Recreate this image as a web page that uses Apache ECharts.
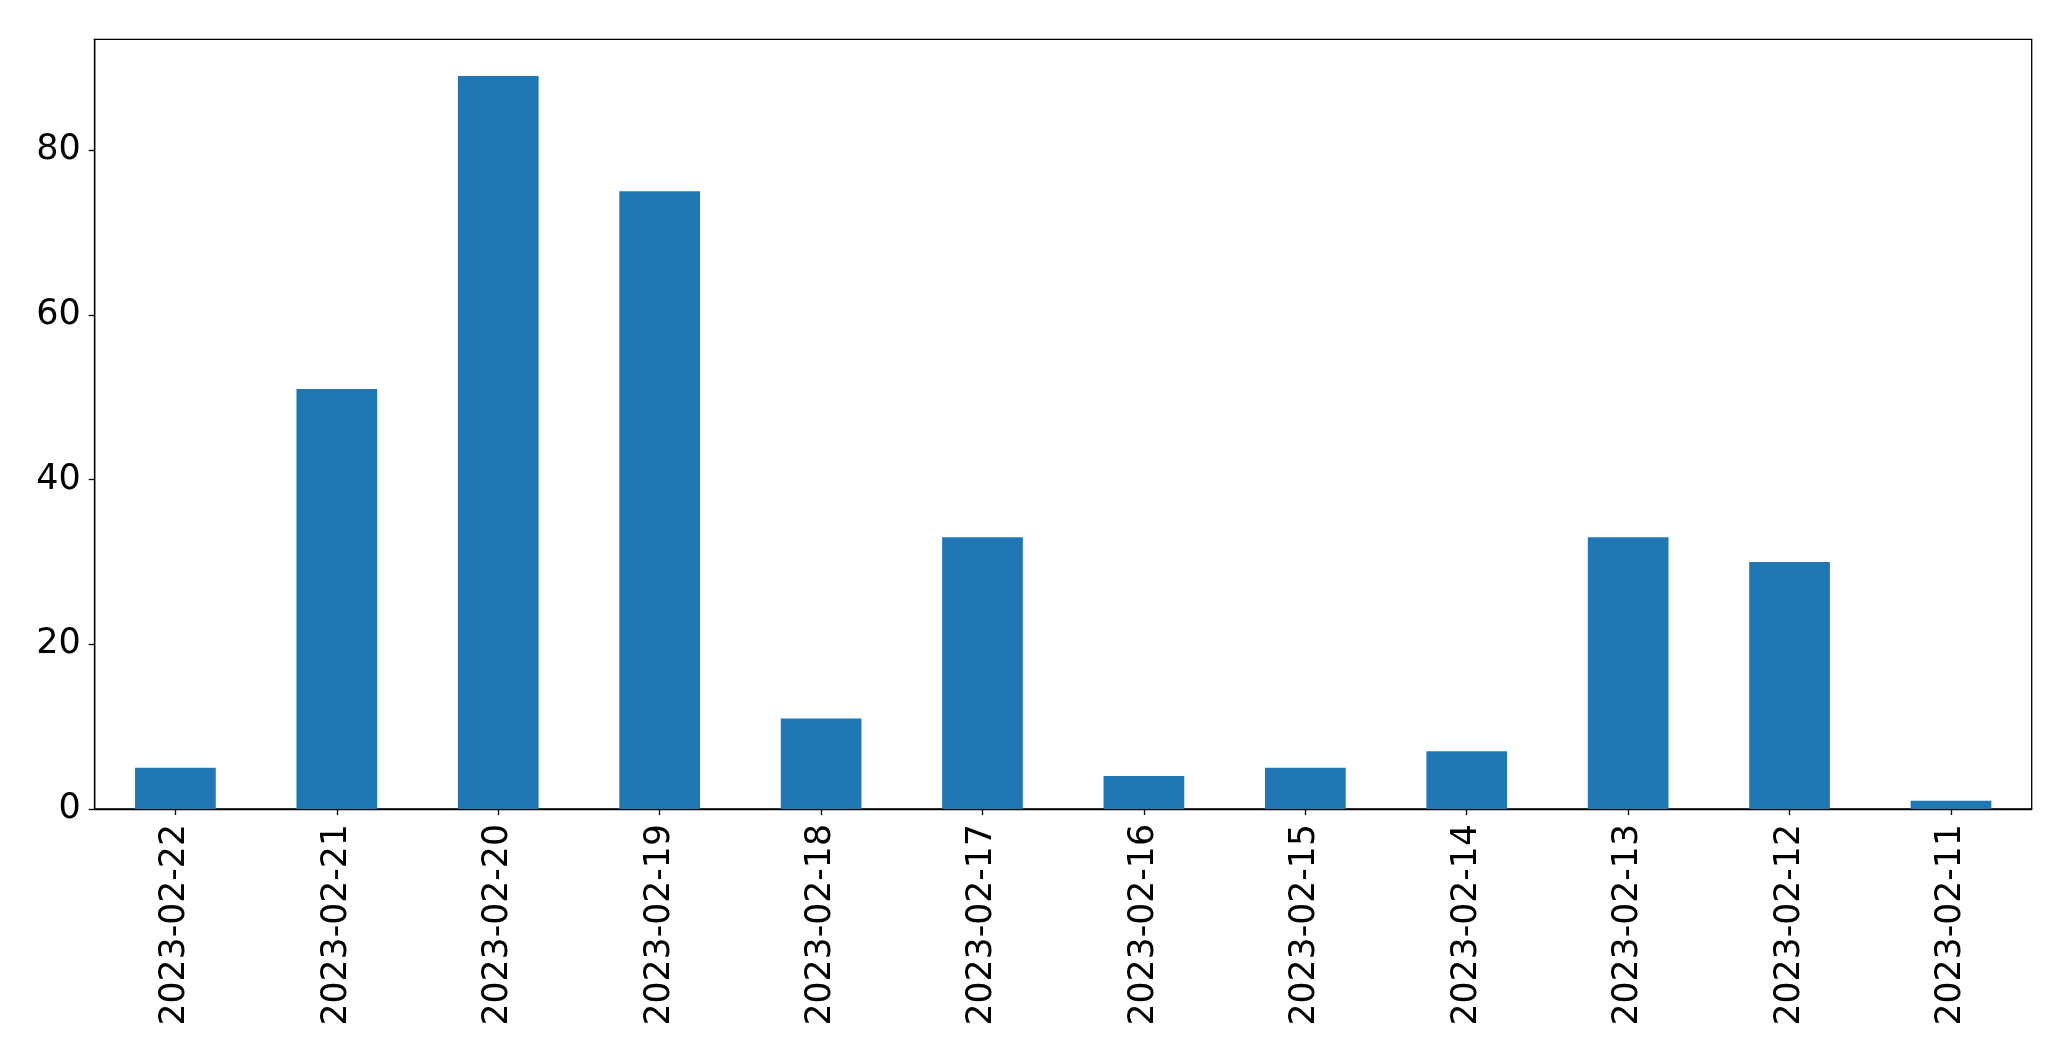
<!DOCTYPE html>
<html><head><meta charset="utf-8">
<script src="https://cdn.jsdelivr.net/npm/echarts@6/dist/echarts.min.js"></script>
<style>html,body{margin:0;padding:0;background:#fff}#c{width:2071px;height:1061px}</style>
</head><body><div id="c"></div>
<script>
const categories = ["2023-02-22","2023-02-21","2023-02-20","2023-02-19","2023-02-18","2023-02-17","2023-02-16","2023-02-15","2023-02-14","2023-02-13","2023-02-12","2023-02-11"];
const values = [5, 51, 89, 75, 11, 33, 4, 5, 7, 33, 30, 1];
const yTicks = [0, 20, 40, 60, 80];
const yMax = 93.45;

const chart = echarts.init(document.getElementById('c'), null, {renderer: 'canvas'});
const font = 'DejaVu Sans';
chart.setOption({
  animation: false,
  backgroundColor: '#ffffff',
  grid: {left: 94.7, right: 39.3, top: 39.3, bottom: 252, show: true, borderColor: '#000', borderWidth: 1.3, backgroundColor: 'transparent'},
  xAxis: {
    type: 'category', data: categories, boundaryGap: true,
    axisLine: {show: true, lineStyle: {color: '#000', width: 1.3}},
    axisTick: {show: true, alignWithLabel: true, length: 6, lineStyle: {color: '#000', width: 1.3}},
    axisLabel: {rotate: 90, color: '#000', fontFamily: font, fontSize: 34.7, margin: 15, interval: 0},
    splitLine: {show: false}
  },
  yAxis: {
    type: 'value', min: 0, max: yMax,
    axisLine: {show: true, lineStyle: {color: '#000', width: 1.3}},
    axisTick: {show: true, length: 6, lineStyle: {color: '#000', width: 1.3}, customValues: yTicks},
    axisLabel: {color: '#000', fontFamily: font, fontSize: 35, margin: 14, customValues: yTicks},
    splitLine: {show: false}
  },
  series: [{type: 'bar', data: values, barWidth: '50%', itemStyle: {color: '#1f77b4'}}]
});
</script></body></html>
